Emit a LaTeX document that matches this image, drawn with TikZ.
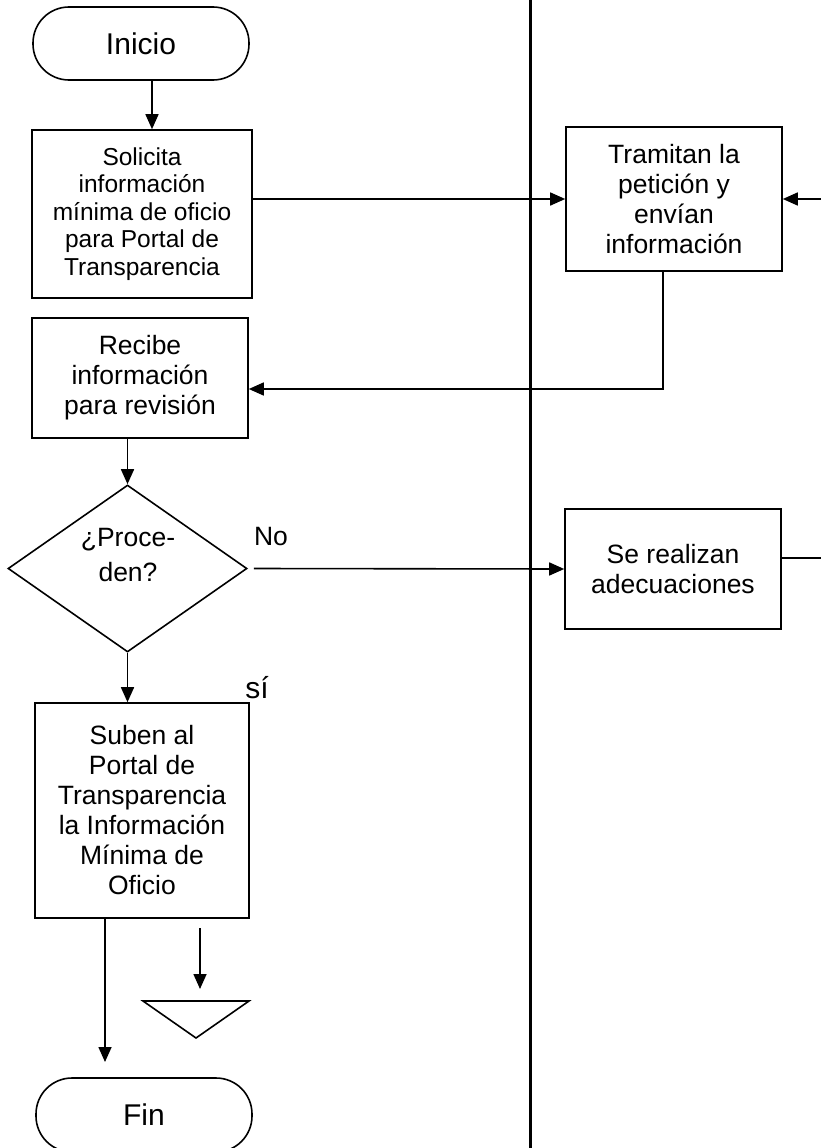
\documentclass[tikz,border=0pt]{standalone}
\usepackage{fontspec}
\setmainfont{Liberation Sans}
\usetikzlibrary{arrows.meta,shapes.geometric}
\begin{document}
\begin{tikzpicture}[x=1pt,y=-1pt,
  line width=1.6pt,
  boxstyle/.style={draw,rectangle,align=center,inner sep=0pt,font=\fontsize{26.5pt}{30pt}\selectfont},
  smallbox/.style={boxstyle,font=\fontsize{24.5pt}{27.5pt}\selectfont},
  term/.style={draw,rectangle,rounded corners=36pt,inner sep=0pt,minimum width=216pt,minimum height=73pt,font=\fontsize{30pt}{34pt}\selectfont},
  dia/.style={draw,diamond,inner sep=0pt,minimum width=239pt,minimum height=167pt},
  txt/.style={align=center,inner sep=0pt,font=\fontsize{26.5pt}{30pt}\selectfont},
  arr/.style={-{Triangle[length=15pt,width=13pt]}},
  lane/.style={line width=2.4pt}
]
\useasboundingbox (0,0) rectangle (821,1148);

% lane divider
\coordinate (laneT) at (530.5,0);
\coordinate (laneB) at (530.5,1148);
\draw[lane] (laneT) -- (laneB);

% nodes
\node[term] (ini) at (141,43.5) {Inicio};
\node[smallbox,minimum width=220pt,minimum height=168pt] (sol) at (142,214)
  {Solicita\\información\\mínima de oficio\\para Portal de\\Transparencia};
\node[boxstyle,minimum width=216pt,minimum height=144pt] (tra) at (674,199)
  {Tramitan la\\petición y\\envían\\información};
\node[boxstyle,minimum width=216pt,minimum height=120pt] (rec) at (140,378)
  {Recibe\\información\\para revisión};
\node[dia] (dec) at (127.5,568.5) {};
\node[txt,font=\fontsize{26.5pt}{35pt}\selectfont] (dectxt) at (128,555) {¿Proce-\\den?};
\node[boxstyle,minimum width=216pt,minimum height=120pt] (ade) at (673,569)
  {Se realizan\\adecuaciones};
\node[boxstyle,minimum width=214pt,minimum height=215pt] (sub) at (142,810.5)
  {Suben al\\Portal de\\Transparencia\\la Información\\Mínima de\\Oficio};
\node[term,minimum height=74pt] (fin) at (144,1115) {Fin};
\node[txt] (nolab) at (271,537) {No};
\node[txt,font=\fontsize{30pt}{34pt}\selectfont] (silab) at (257,688) {sí};

% off-page connector
\coordinate (offA) at (143,1001);
\coordinate (offB) at (249,1001);
\coordinate (offC) at (196,1038);
\draw (offA) -- (offB) -- (offC) -- cycle;

% connectors
\draw[arr] ([xshift=11pt]ini.south) -- ([xshift=10pt]sol.north);
\draw[arr] (sol.east |- tra.west) -- (tra.west);
\coordinate (rin) at (821,199);
\draw[arr] (rin) -- (tra.east);
\draw[arr] ([xshift=-11pt]tra.south) |- ([yshift=-11pt]rec.east);
\draw[arr] (dec.north |- rec.south) -- (dec.north);
\draw[arr] ([xshift=6pt]dec.east) -- (ade.west);
\coordinate (rout) at (821,558);
\draw ([yshift=11pt]ade.east) -- (rout);
\draw[arr] (dec.south) -- (dec.south |- sub.north);
\coordinate (finarr) at (105,1062);
\draw[arr] (sub.south -| finarr) -- (finarr);
\coordinate (offtop) at (200,928);
\coordinate (offarr) at (200,989);
\draw[arr] (offtop) -- (offarr);
\end{tikzpicture}
\end{document}
